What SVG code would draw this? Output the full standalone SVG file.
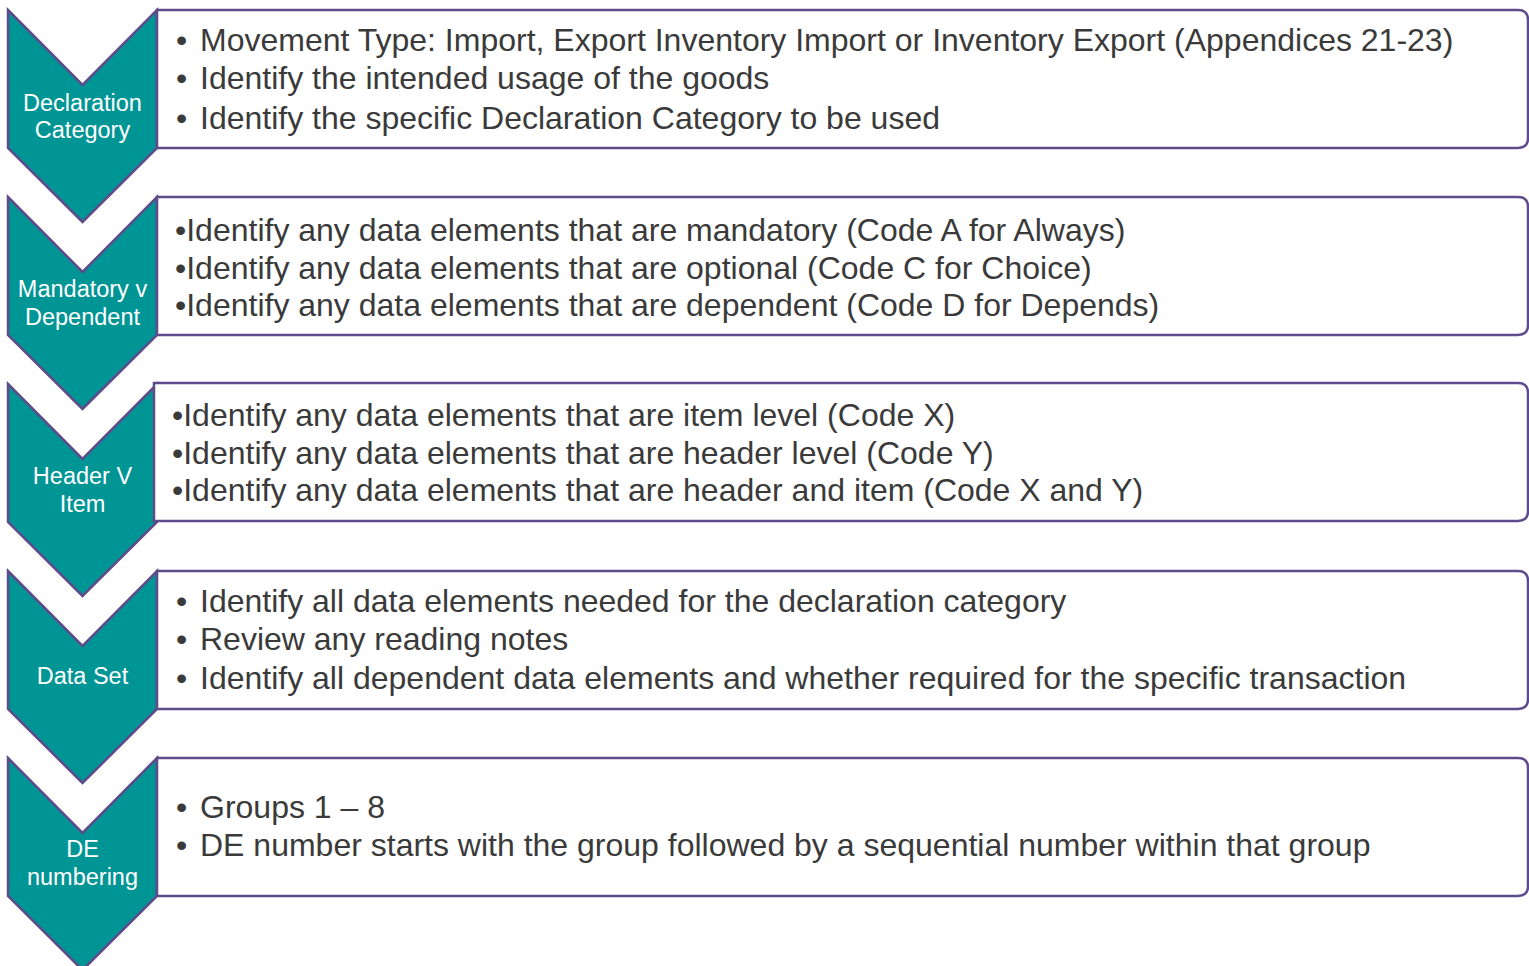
<svg xmlns="http://www.w3.org/2000/svg" width="1529" height="966" viewBox="0 0 1529 966">
<style>
.chev{fill:#009595;stroke:#5E4B8B;stroke-width:2.5;stroke-linejoin:miter}
.box{fill:#ffffff;stroke:#5E4B8B;stroke-width:2.5}
.lbl{font-family:"Liberation Sans",Arial,sans-serif;font-size:23.5px;fill:#ffffff;text-anchor:middle}
.txt{font-family:"Liberation Sans",Arial,sans-serif;font-size:32px;fill:#3a3a3a}
</style>
<rect width="1529" height="966" fill="#ffffff"/>
<defs>
<path id="chevron" d="M8,0 L82.5,75 L157,0 L157,138 L82.5,212 L8,138 Z"/>
</defs>
<g id="step1">
<use href="#chevron" class="chev" transform="translate(0,10)"/>
<path class="box" d="M157,10 H1518 Q1528,10 1528,20 V138 Q1528,148 1518,148 H157 Z"/>
<text class="lbl" x="82.5" y="111">Declaration</text>
<text class="lbl" x="82.5" y="138">Category</text>
<text class="txt" x="176" y="51">•</text><text class="txt" x="200" y="51">Movement Type: Import, Export Inventory Import or Inventory Export (Appendices 21-23)</text>
<text class="txt" x="176" y="89">•</text><text class="txt" x="200" y="89">Identify the intended usage of the goods</text>
<text class="txt" x="176" y="129">•</text><text class="txt" x="200" y="129">Identify the specific Declaration Category to be used</text>
</g>
<g id="step2">
<use href="#chevron" class="chev" transform="translate(0,197)"/>
<path class="box" d="M157,197 H1518 Q1528,197 1528,207 V325 Q1528,335 1518,335 H157 Z"/>
<text class="lbl" x="82.5" y="297">Mandatory v</text>
<text class="lbl" x="82.5" y="325">Dependent</text>
<text class="txt" x="175" y="241">•Identify any data elements that are mandatory (Code A for Always)</text>
<text class="txt" x="175" y="279">•Identify any data elements that are optional (Code C for Choice)</text>
<text class="txt" x="175" y="316">•Identify any data elements that are dependent (Code D for Depends)</text>
</g>
<g id="step3">
<use href="#chevron" class="chev" transform="translate(0,384)"/>
<path class="box" d="M154,383 H1518 Q1528,383 1528,393 V511 Q1528,521 1518,521 H154 Z"/>
<text class="lbl" x="82.5" y="484">Header V</text>
<text class="lbl" x="82.5" y="512">Item</text>
<text class="txt" x="172" y="426">•Identify any data elements that are item level (Code X)</text>
<text class="txt" x="172" y="464">•Identify any data elements that are header level (Code Y)</text>
<text class="txt" x="172" y="501">•Identify any data elements that are header and item (Code X and Y)</text>
</g>
<g id="step4">
<use href="#chevron" class="chev" transform="translate(0,571)"/>
<path class="box" d="M157,571 H1518 Q1528,571 1528,581 V699 Q1528,709 1518,709 H157 Z"/>
<text class="lbl" x="82.5" y="684">Data Set</text>
<text class="txt" x="176" y="612">•</text><text class="txt" x="200" y="612">Identify all data elements needed for the declaration category</text>
<text class="txt" x="176" y="650">•</text><text class="txt" x="200" y="650">Review any reading notes</text>
<text class="txt" x="176" y="689">•</text><text class="txt" x="200" y="689">Identify all dependent data elements and whether required for the specific transaction</text>
</g>
<g id="step5">
<use href="#chevron" class="chev" transform="translate(0,758)"/>
<path class="box" d="M157,758 H1518 Q1528,758 1528,768 V886 Q1528,896 1518,896 H157 Z"/>
<text class="lbl" x="82.5" y="857">DE</text>
<text class="lbl" x="82.5" y="885">numbering</text>
<text class="txt" x="176" y="818">•</text><text class="txt" x="200" y="818">Groups 1 – 8</text>
<text class="txt" x="176" y="856">•</text><text class="txt" x="200" y="856">DE number starts with the group followed by a sequential number within that group</text>
</g>
<g id="connectors"></g>
</svg>
